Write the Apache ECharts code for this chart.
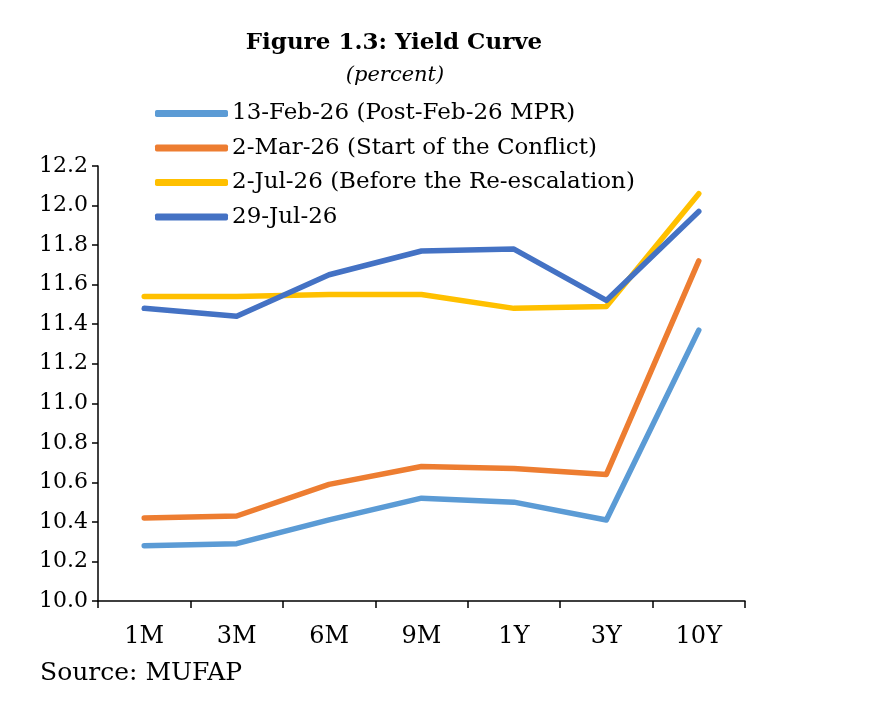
<!DOCTYPE html>
<html>
<head>
<meta charset="utf-8">
<script src="https://cdn.jsdelivr.net/npm/echarts@6/dist/echarts.min.js"></script>
<style>
  html, body { margin: 0; padding: 0; background: #fff; }
  #chartWrap { width: 877px; height: 703px; }
</style>
</head>
<body>
<div id="chartWrap"></div>
<script>
// tenors on the x axis
const tenors = ['1M', '3M', '6M', '9M', '1Y', '3Y', '10Y'];

// yields, percent
const feb13 = [10.28, 10.29, 10.41, 10.52, 10.50, 10.41, 11.37];
const mar2 = [10.42, 10.43, 10.59, 10.68, 10.67, 10.64, 11.72];
const jul2 = [11.54, 11.54, 11.55, 11.55, 11.48, 11.49, 12.06];
const jul29 = [11.48, 11.44, 11.65, 11.77, 11.78, 11.52, 11.97];

const names = [
    '13-Feb-26 (Post-Feb-26 MPR)',
    '2-Mar-26 (Start of the Conflict)',
    '2-Jul-26 (Before the Re-escalation)',
    '29-Jul-26'
];
const colors = ['#5B9BD5', '#ED7D31', '#FFC000', '#4472C4'];
const font = "'DejaVu Serif', serif";

const myChart = echarts.init(document.getElementById('chartWrap'));

function line(name, data) {
    return {
        name: name,
        type: 'line',
        data: data,
        symbol: 'none',
        lineStyle: {width: 5.5, cap: 'round', join: 'round'}
    };
}

myChart.setOption({
    color: colors,
    animation: false,
    textStyle: {fontFamily: font, color: '#000'},
    title: [{
        text: 'Figure 1.3: Yield Curve',
        left: 389,
        top: 27,
        textAlign: 'center',
        textStyle: {fontFamily: font, fontSize: 23, fontWeight: 'bold', color: '#000'}
    }, {
        text: '(percent)',
        left: 390,
        top: 60,
        textAlign: 'center',
        textStyle: {fontFamily: font, fontSize: 21, fontStyle: 'italic', fontWeight: 'normal', color: '#000'}
    }, {
        text: 'Source: MUFAP',
        left: 40,
        top: 661,
        padding: 0,
        textStyle: {fontFamily: font, fontSize: 25, fontWeight: 'normal', color: '#000'}
    }],
    legend: {
        orient: 'vertical',
        left: 155,
        top: 100,
        padding: 0,
        itemWidth: 73,
        itemHeight: 7,
        itemGap: 7.5,
        icon: 'roundRect',
        data: names,
        textStyle: {fontFamily: font, fontSize: 23, lineHeight: 27, color: '#000', padding: [0, 0, 0, -1]}
    },
    grid: {left: 98, right: 132, top: 166, bottom: 102, containLabel: false},
    xAxis: {
        type: 'category',
        data: tenors,
        boundaryGap: true,
        axisLine: {lineStyle: {color: '#000', width: 1.5}},
        axisTick: {show: true, length: 7, lineStyle: {color: '#000', width: 1.5}},
        axisLabel: {color: '#000', fontFamily: font, fontSize: 24, margin: 24}
    },
    yAxis: {
        type: 'value',
        min: 10.0,
        max: 12.2,
        interval: 0.2,
        axisLine: {show: true, lineStyle: {color: '#000', width: 1.5}},
        axisTick: {show: true, length: 6, lineStyle: {color: '#000', width: 1.5}},
        splitLine: {show: false},
        axisLabel: {
            color: '#000', fontFamily: font, fontSize: 22, margin: 10,
            formatter: function (v) { return v.toFixed(1); }
        }
    },
    series: [
        line(names[0], feb13),
        line(names[1], mar2),
        line(names[2], jul2),
        line(names[3], jul29)
    ]
});
</script>
</body>
</html>
